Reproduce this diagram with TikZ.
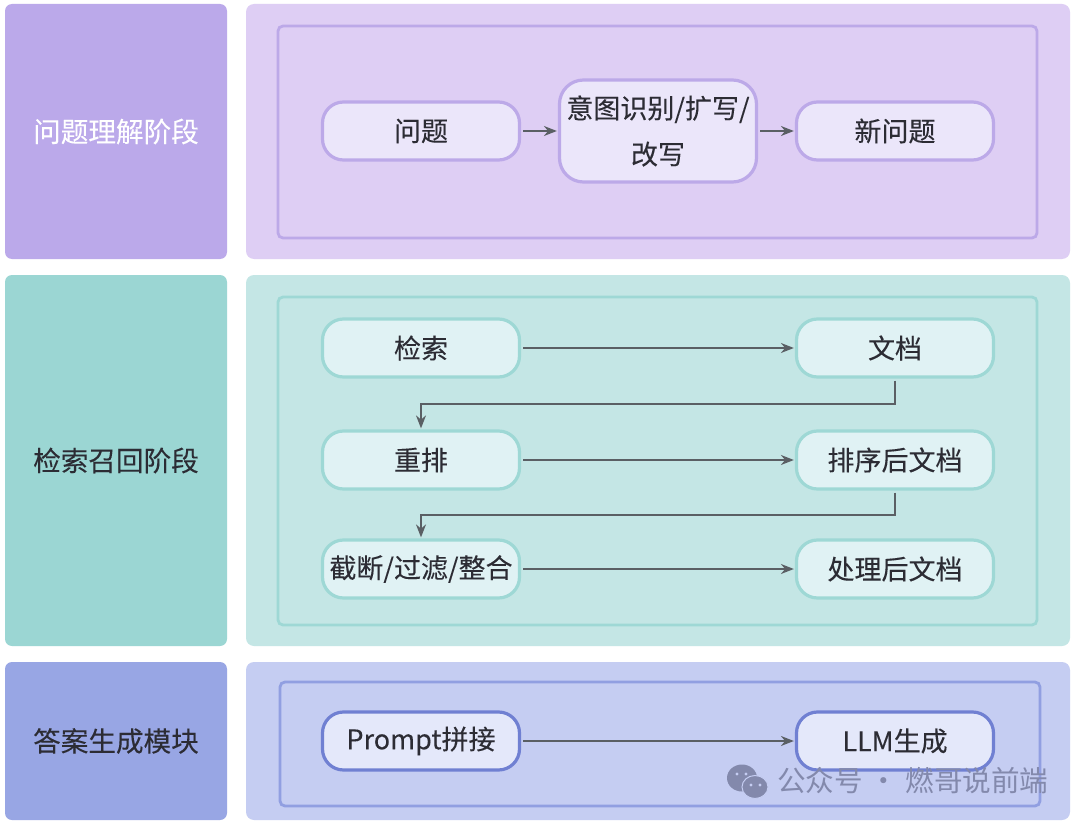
\documentclass[tikz,border=0pt]{standalone}
\usepackage{fontspec}
\setmainfont{Noto Sans CJK SC}
\newfontfamily\heavyfont[FakeBold=0.12]{Noto Sans CJK SC}
\usetikzlibrary{arrows.meta}
\definecolor{pL}{HTML}{BBA9EA}\definecolor{pP}{HTML}{DECEF4}\definecolor{pB}{HTML}{BCA9E8}\definecolor{pN}{HTML}{EBE6FA}
\definecolor{tL}{HTML}{9BD6D3}\definecolor{tP}{HTML}{C4E6E5}\definecolor{tB}{HTML}{9ED8D5}\definecolor{tN}{HTML}{E0F2F4}
\definecolor{bL}{HTML}{98A6E4}\definecolor{bP}{HTML}{C5CDF2}\definecolor{bB}{HTML}{919FE1}\definecolor{bN}{HTML}{E4E8FA}\definecolor{bE}{HTML}{7080D2}
\definecolor{ink}{HTML}{2C2C34}\definecolor{arrowc}{HTML}{5A5F64}\definecolor{wmc}{HTML}{8389AC}
\tikzset{
 x=1pt,y=-1pt,
 box/.style={inner sep=0pt,outer sep=0pt,anchor=north west,rounded corners=7pt},
 stagebox/.style={box,font=\heavyfont\fontsize{27.6}{32}\selectfont},
 panelbox/.style={box,rounded corners=8pt},
 innerbox/.style={box,rounded corners=5pt,line width=2.8pt},
 flow/.style={draw,line width=3.2pt,rounded corners=21pt,minimum width=197pt,minimum height=58pt,inner sep=0pt,outer sep=1.6pt,align=center,text=ink,font=\heavyfont\fontsize{27}{46}\selectfont},
 conn/.style={draw=arrowc,line width=1.7pt,-{Stealth[length=13pt,width=10pt]},shorten <=2pt,shorten >=1pt},
}
\begin{document}
\begin{tikzpicture}
\useasboundingbox (0,0) rectangle (1080,824);
\fill[white] (0,0) rectangle (1080,824);
% left stage bands
\node[stagebox,fill=pL,text=white,minimum width=222pt,minimum height=255pt] (s1) at (5,4) {问题理解阶段};
\node[stagebox,fill=tL,text=ink,minimum width=222pt,minimum height=371pt] (s2) at (5,275) {检索召回阶段};
\node[stagebox,fill=bL,text=ink,minimum width=222pt,minimum height=158pt] (s3) at (5,662) {答案生成模块};
% panels
\node[panelbox,fill=pP,minimum width=824pt,minimum height=255pt] (p1) at (246,4) {};
\node[panelbox,fill=tP,minimum width=824pt,minimum height=371pt] (p2) at (246,275) {};
\node[panelbox,fill=bP,minimum width=824pt,minimum height=158pt] (p3) at (246,662) {};
\node[innerbox,draw=pB,minimum width=759pt,minimum height=212pt] (i1) at (278,26) {};
\node[innerbox,draw=tB,minimum width=759pt,minimum height=328pt] (i2) at (278,297) {};
\node[innerbox,draw=bB,minimum width=760pt,minimum height=124pt] (i3) at (280,682) {};
% flow nodes: stage 1
\node[flow,draw=pB,fill=pN] (q) at (421,131) {问题};
\node[flow,draw=pB,fill=pN,minimum height=102pt,rounded corners=24pt] (rw) at (658,131) {意图识别/扩写/\\改写};
\node[flow,draw=pB,fill=pN] (nq) at (895,131) {新问题};
% stage 2
\node[flow,draw=tB,fill=tN] (ret) at (421,348) {检索};
\node[flow,draw=tB,fill=tN] (doc) at (895,348) {文档};
\node[flow,draw=tB,fill=tN] (rr) at (421,460) {重排};
\node[flow,draw=tB,fill=tN] (sd) at (895,460) {排序后文档};
\node[flow,draw=tB,fill=tN] (cut) at (421,569) {截断/过滤/整合};
\node[flow,draw=tB,fill=tN] (pd) at (895,569) {处理后文档};
% stage 3
\node[flow,draw=bE,fill=bN] (pr) at (421,741) {Prompt拼接};
\node[flow,draw=bE,fill=bN] (llm) at (895,741) {LLM生成};
% connectors
\draw[conn] (q) -- (rw);
\draw[conn] (rw) -- (nq);
\draw[conn] (ret) -- (doc);
\draw[conn] (rr) -- (sd);
\draw[conn] (cut) -- (pd);
\draw[conn] (pr) -- (llm);
\coordinate (m1) at (421,404);
\coordinate (m2) at (421,515);
\draw[conn] (doc.south) |- (m1) -- (rr.north);
\draw[conn] (sd.south) |- (m2) -- (cut.north);
% watermark
\fill[wmc] (742,778) ellipse (15pt and 13.5pt);
\fill[wmc,draw=bP,line width=1pt] (755,787) ellipse (13pt and 11.5pt);
\foreach \ex/\ey in {737/774,746/774,751/785,760/785}{\fill[bP] (\ex,\ey) circle (1.6pt);}
\node[text=wmc,font=\fontsize{28.6}{32}\selectfont,anchor=west,inner sep=0pt] (wm) at (777,781) {公众号\hspace{7pt}·\hspace{7pt}燃哥说前端};
\end{tikzpicture}
\end{document}
